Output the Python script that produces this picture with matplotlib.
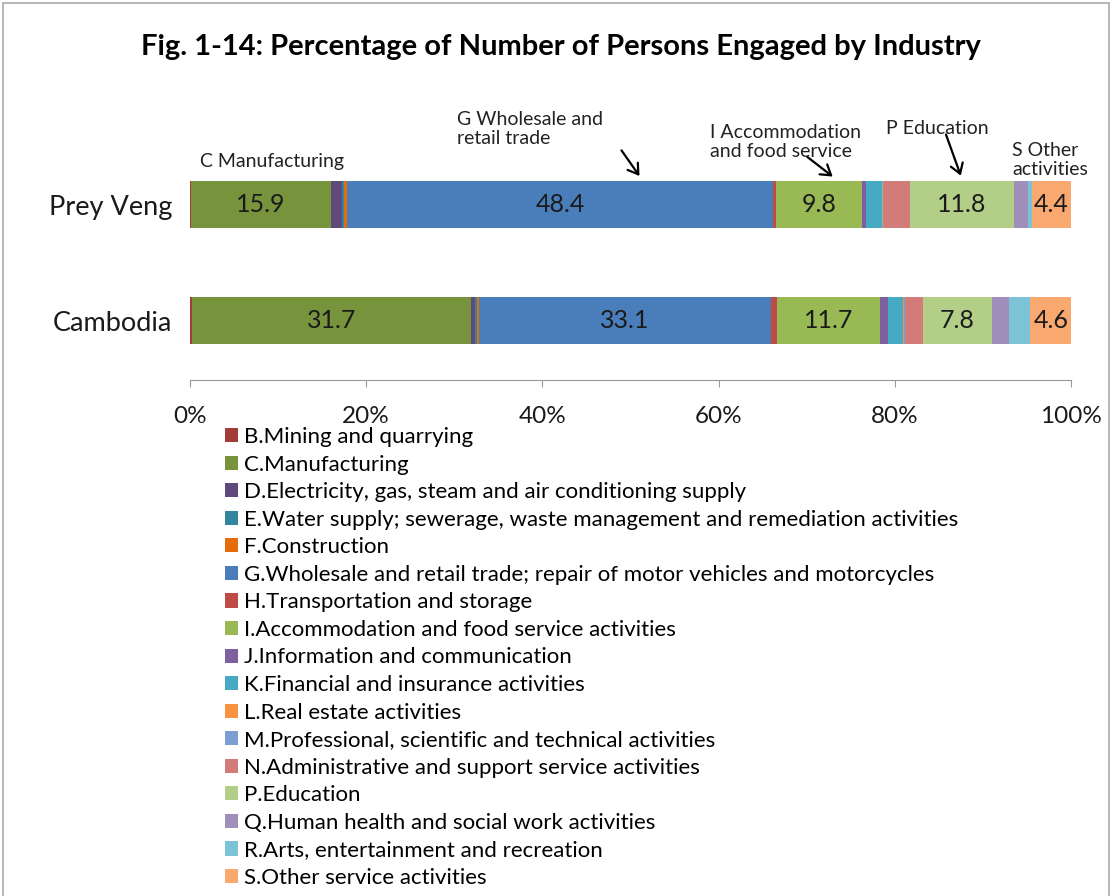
import numpy as np
import matplotlib
matplotlib.use("Agg")
import matplotlib.pyplot as plt
from matplotlib.patches import Rectangle, Patch

plt.rcParams['font.family'] = ['Lato', 'DejaVu Sans']

regions = ['Cambodia', 'Prey Veng']

industries = [
    'B.Mining and quarrying',
    'C.Manufacturing',
    'D.Electricity, gas, steam and air conditioning supply',
    'E.Water supply; sewerage, waste management and remediation activities',
    'F.Construction',
    'G.Wholesale and retail trade; repair of motor vehicles and motorcycles',
    'H.Transportation and storage',
    'I.Accommodation and food service activities',
    'J.Information and communication',
    'K.Financial and insurance activities',
    'L.Real estate activities',
    'M.Professional, scientific and technical activities',
    'N.Administrative and support service activities',
    'P.Education',
    'Q.Human health and social work activities',
    'R.Arts, entertainment and recreation',
    'S.Other service activities',
]

colors = ['#A33B38', '#77933C', '#604A7B', '#31859C', '#E46C0A', '#4A7EBB',
          '#BE4B48', '#98B954', '#7D60A0', '#46AAC5', '#F69240', '#7C9FD3',
          '#D27B79', '#B3CE87', '#A18FBB', '#7DC3D8', '#F9A870']

# share (%) per industry
prey_veng = [0.1, 15.9, 1.3, 0.2, 0.3, 48.4, 0.3, 9.8, 0.4, 1.9, 0.1, 0.1,
             2.9, 11.8, 1.6, 0.5, 4.4]
cambodia = [0.2, 31.7, 0.5, 0.2, 0.2, 33.1, 0.7, 11.7, 0.9, 1.7, 0.1, 0.2,
            2.0, 7.8, 2.0, 2.4, 4.6]

labelled = {1: 'C', 5: 'G', 7: 'I', 13: 'P', 16: 'S'}

fig = plt.figure(figsize=(11.14, 8.96), dpi=100)
W, H = 1114, 896
ax = fig.add_axes([190 / W, 1 - 380 / H, 881 / W, 240 / H])

data = np.array([cambodia, prey_veng])
y = np.arange(len(regions))
left = np.zeros(len(regions))
for i, name in enumerate(industries):
    vals = data[:, i]
    ax.barh(y, vals, left=left, height=0.405, color=colors[i], edgecolor='none')
    if i in labelled:
        for j in range(len(regions)):
            ax.text(left[j] + vals[j] / 2, y[j], f'{vals[j]:.1f}',
                    ha='center', va='center', fontsize=18, color='#1a1a1a')
    left += vals

ax.set_xlim(0, 100)
ax.set_ylim(-0.509, 1.56)
ax.set_yticks(y)
ax.set_yticklabels(regions, fontsize=19.5, color='#1a1a1a')
for lbl in ax.get_yticklabels():
    lbl.set_va('center_baseline')
ax.tick_params(axis='y', length=0, pad=13)
ax.set_xticks(np.arange(0, 101, 20))
ax.set_xticklabels([f'{t}%' for t in range(0, 101, 20)], fontsize=17.5,
                   color='#1a1a1a')
ax.tick_params(axis='x', direction='out', length=5, color='#999999', pad=14)
for s in ['top', 'right', 'left']:
    ax.spines[s].set_visible(False)
ax.spines['bottom'].set_color('#999999')

# annotations
arrow = dict(arrowstyle='->, head_length=0.7, head_width=0.45', lw=1.6, color='black')
ann_kw = dict(fontsize=14, color='#222222', va='bottom', ha='left', linespacing=1.15)
ax.annotate('', xy=(51.2, 1.23), xytext=(48.8, 1.49), arrowprops=arrow)
ax.annotate('', xy=(73.2, 1.23), xytext=(69.8, 1.43), arrowprops=arrow)
ax.annotate('', xy=(87.6, 1.23), xytext=(85.7, 1.63), arrowprops=arrow,
            annotation_clip=False)
fig.text(200 / W, 1 - 170 / H, 'C Manufacturing', **ann_kw)
fig.text(457 / W, 1 - 147 / H, 'G Wholesale and\nretail trade', **ann_kw)
fig.text(710 / W, 1 - 160 / H, 'I Accommodation\nand food service', **ann_kw)
fig.text(886 / W, 1 - 137 / H, 'P Education', **ann_kw)
fig.text(1012 / W, 1 - 178 / H, 'S Other\nactivities', **ann_kw)

fig.text(561 / W, 1 - 47 / H,
         'Fig. 1-14: Percentage of Number of Persons Engaged by Industry',
         ha='center', va='center', fontsize=21, fontweight='bold')

handles = [Patch(facecolor=c, edgecolor='none') for c in colors]
fig.legend(handles, industries, loc='upper left',
           bbox_to_anchor=(225 / W, 1 - 427 / H), frameon=False,
           fontsize=16, handlelength=0.6, handleheight=0.6,
           handletextpad=0.25, labelspacing=0.34, borderaxespad=0,
           borderpad=0)

fig.patches.append(Rectangle((3 / W, -5 / H), 1106 / W, 898 / H,
                             transform=fig.transFigure, fill=False,
                             edgecolor='#aaaaaa', lw=1.2))

fig.savefig('out.png', dpi=100, facecolor='white')
